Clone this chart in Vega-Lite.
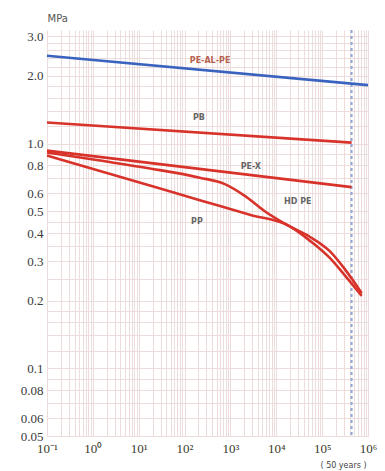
{
  "$schema": "https://vega.github.io/schema/vega-lite/v6.json",
  "width": 321,
  "height": 406,
  "autosize": {"type": "none"},
  "padding": {"left": 47, "top": 30, "right": 17, "bottom": 35},
  "background": "white",
  "config": {"view": {"stroke": null}},
  "datasets": {
    "curves": [
      {"series": "PE-AL-PE", "hours": 0.1, "mpa": 2.46},
      {"series": "PE-AL-PE", "hours": 1000000, "mpa": 1.82},
      {"series": "PB", "hours": 0.1, "mpa": 1.24},
      {"series": "PB", "hours": 438000, "mpa": 1.01},
      {"series": "PE-X", "hours": 0.1, "mpa": 0.93},
      {"series": "PE-X", "hours": 438000, "mpa": 0.64},
      {"series": "HD PE", "hours": 0.1, "mpa": 0.912},
      {"series": "HD PE", "hours": 1.43, "mpa": 0.84},
      {"series": "HD PE", "hours": 17.5, "mpa": 0.775},
      {"series": "HD PE", "hours": 215, "mpa": 0.705},
      {"series": "HD PE", "hours": 755, "mpa": 0.66},
      {"series": "HD PE", "hours": 2060, "mpa": 0.585},
      {"series": "HD PE", "hours": 5600, "mpa": 0.5},
      {"series": "HD PE", "hours": 19700, "mpa": 0.428},
      {"series": "HD PE", "hours": 53700, "mpa": 0.385},
      {"series": "HD PE", "hours": 146600, "mpa": 0.332},
      {"series": "HD PE", "hours": 309000, "mpa": 0.277},
      {"series": "HD PE", "hours": 730000, "mpa": 0.216},
      {"series": "PP", "hours": 0.1, "mpa": 0.884},
      {"series": "PP", "hours": 17.5, "mpa": 0.65},
      {"series": "PP", "hours": 215, "mpa": 0.56},
      {"series": "PP", "hours": 2650, "mpa": 0.482},
      {"series": "PP", "hours": 19700, "mpa": 0.428},
      {"series": "PP", "hours": 53700, "mpa": 0.37},
      {"series": "PP", "hours": 146600, "mpa": 0.31},
      {"series": "PP", "hours": 309000, "mpa": 0.26},
      {"series": "PP", "hours": 730000, "mpa": 0.21}
    ],
    "labels": [
      {"label": "PE-AL-PE", "kind": "blue", "hours": 360, "mpa": 2.33},
      {"label": "PB", "kind": "red", "hours": 205, "mpa": 1.305},
      {"label": "PE-X", "kind": "red", "hours": 2770, "mpa": 0.79},
      {"label": "HD PE", "kind": "red", "hours": 29500, "mpa": 0.547},
      {"label": "PP", "kind": "red", "hours": 186, "mpa": 0.446}
    ],
    "marker": [{"hours": 438000}]
  },
  "layer": [
    {
      "data": {"name": "marker"},
      "mark": {"type": "rule", "color": "#8ea6cf", "strokeWidth": 2, "strokeDash": [3, 3]},
      "encoding": {
        "x": {"field": "hours", "type": "quantitative",
          "scale": {"type": "log", "domain": [0.1, 1000000], "nice": false},
          "axis": {
            "orient": "bottom",
            "values": [0.1,0.2,0.3,0.4,0.5,0.6,0.7,0.8,0.9,1,2,3,4,5,6,7,8,9,10,20,30,40,50,60,70,80,90,100,200,300,400,500,600,700,800,900,1000,2000,3000,4000,5000,6000,7000,8000,9000,10000,20000,30000,40000,50000,60000,70000,80000,90000,100000,200000,300000,400000,500000,600000,700000,800000,900000,1000000],
            "grid": true, "gridColor": "#ecdcdc", "gridWidth": 1,
            "ticks": false, "domain": false,
            "labelOverlap": false, "labelFlush": false, "labelBound": false,
            "labelExpr": "abs(log(datum.value)/LN10 - round(log(datum.value)/LN10)) < 0.001 ? '10' + ['⁻¹','⁰','¹','²','³','⁴','⁵','⁶'][round(log(datum.value)/LN10)+1] : ''",
            "labelFont": "Liberation Serif", "labelFontSize": 13, "labelColor": "#3a3a2a", "labelPadding": 6, "labelDx": 3,
            "title": "( 50 years )", "titleFont": "DejaVu Sans", "titleFontSize": 8, "titleFontWeight": "normal", "titleColor": "#444",
            "titleX": 296, "titleY": 29, "titleAlign": "center", "titleBaseline": "middle"
          }
        }
      }
    },
    {
      "data": {"name": "curves"},
      "mark": {"type": "line", "strokeWidth": 2.6, "interpolate": "monotone"},
      "encoding": {
        "x": {"field": "hours", "type": "quantitative"},
        "y": {"field": "mpa", "type": "quantitative",
          "scale": {"type": "log", "domain": [0.05, 3.2], "nice": false},
          "axis": {
            "orient": "left",
            "values": [0.05,0.06,0.07,0.08,0.09,0.1,0.12,0.14,0.16,0.18,0.2,0.25,0.3,0.35,0.4,0.45,0.5,0.6,0.7,0.8,0.9,1,1.2,1.4,1.6,1.8,2,2.2,2.4,2.6,2.8,3],
            "grid": true, "gridColor": "#ecdcdc", "gridWidth": 1,
            "ticks": false, "domain": false,
            "labelOverlap": false, "labelFlush": false, "labelBound": false,
            "labelExpr": "indexof([0.05,0.06,0.08,0.1,0.2,0.3,0.4,0.5,0.6,0.8,1,2,3], datum.value) >= 0 ? (datum.value >= 1 ? format(datum.value, '.1f') : format(datum.value, '~g')) : ''",
            "labelFont": "Liberation Serif", "labelFontSize": 13, "labelColor": "#3a3a3a", "labelPadding": 4,
            "title": "MPa", "titleFont": "DejaVu Sans", "titleFontSize": 10, "titleFontWeight": "normal", "titleColor": "#555",
            "titleAngle": 0, "titleX": 0, "titleY": -12, "titleAlign": "left", "titleBaseline": "middle"
          }
        },
        "color": {"field": "series", "type": "nominal",
          "scale": {"domain": ["PE-AL-PE", "PB", "PE-X", "HD PE", "PP"], "range": ["#3a62bf", "#d8332b", "#d8332b", "#d8332b", "#d8332b"]},
          "legend": null},
        "detail": {"field": "series"}
      }
    },
    {
      "data": {"name": "labels"},
      "mark": {"type": "text", "font": "DejaVu Sans", "fontSize": 8, "fontWeight": "bold", "align": "center", "baseline": "middle"},
      "encoding": {
        "x": {"field": "hours", "type": "quantitative"},
        "y": {"field": "mpa", "type": "quantitative"},
        "text": {"field": "label"},
        "color": {"field": "kind", "type": "nominal",
          "scale": {"domain": ["blue", "red"], "range": ["#b5614f", "#666666"]},
          "legend": null}
      }
    }
  ],
  "resolve": {"scale": {"color": "independent"}}
}
